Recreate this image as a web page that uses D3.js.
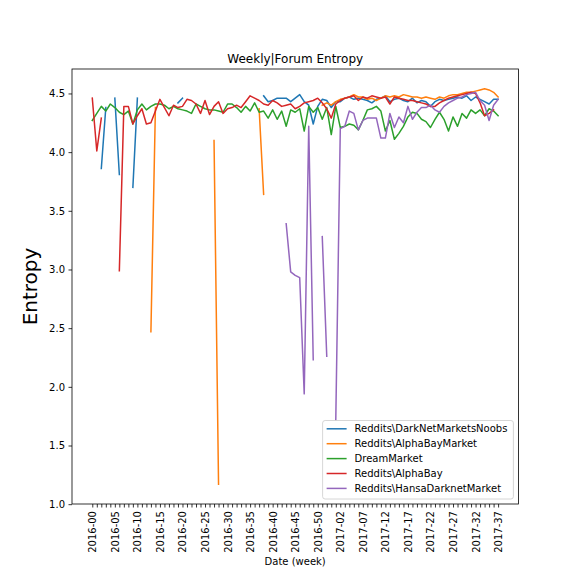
<!DOCTYPE html>
<html>
<head>
<meta charset="utf-8">
<script src="https://cdn.jsdelivr.net/npm/d3@7"></script>
<style>
body { margin: 0; background: #fff; }
svg { display: block; font-family: "DejaVu Sans", sans-serif; }
</style>
</head>
<body>
<svg id="chart"></svg>
<script>
let w = 576;
let h = 576;
let margin = {left: 72, right: 57.6, top: 69, bottom: 72};

// weeks on the x axis (year-week)
let weeks = [
  "2016-00","2016-01","2016-02","2016-03","2016-04","2016-05","2016-06","2016-07","2016-08","2016-09",
  "2016-10","2016-11","2016-12","2016-13","2016-14","2016-15","2016-16","2016-17","2016-18","2016-19",
  "2016-20","2016-21","2016-22","2016-23","2016-24","2016-25","2016-26","2016-27","2016-28","2016-29",
  "2016-30","2016-31","2016-32","2016-33","2016-34","2016-35","2016-36","2016-37","2016-38","2016-39",
  "2016-40","2016-41","2016-42","2016-43","2016-44","2016-45","2016-46","2016-47","2016-48","2016-49",
  "2016-50","2016-51","2016-52","2017-00","2017-01","2017-02","2017-03","2017-04","2017-05","2017-06",
  "2017-07","2017-08","2017-09","2017-10","2017-11","2017-12","2017-13","2017-14","2017-15","2017-16",
  "2017-17","2017-18","2017-19","2017-20","2017-21","2017-22","2017-23","2017-24","2017-25","2017-26",
  "2017-27","2017-28","2017-29","2017-30","2017-31","2017-32","2017-33","2017-34","2017-35","2017-36",
  "2017-37"
];
let tickLabels = ["2016-00","2016-05","2016-10","2016-15","2016-20","2016-25","2016-30","2016-35","2016-40",
  "2016-45","2016-50","2017-02","2017-07","2017-12","2017-17","2017-22","2017-27","2017-32","2017-37"];
let yTicks = [1.0, 1.5, 2.0, 2.5, 3.0, 3.5, 4.0, 4.5];

let seriesNames = ["Reddits\\DarkNetMarketsNoobs", "Reddits\\AlphaBayMarket", "DreamMarket",
  "Reddits\\AlphaBay", "Reddits\\HansaDarknetMarket"];
let colors = ["#1f77b4", "#ff7f0e", "#2ca02c", "#d62728", "#9467bd"];

let dnmNoobs = [
  null,null,3.86,4.38,null,4.46,3.81,null,null,3.70,
  4.46,null,null,null,null,null,null,null,null,4.42,
  4.46,null,null,null,null,null,null,null,null,null,
  null,null,null,null,null,null,null,null,4.48,4.43,
  4.44,4.46,4.46,4.46,4.43,4.46,4.49,4.43,4.40,4.24,
  4.39,4.45,4.44,4.38,4.43,4.43,4.46,4.47,4.45,4.46,
  4.45,4.44,4.42,4.45,4.46,4.48,4.43,4.45,4.46,4.44,
  4.43,4.46,4.42,4.44,4.43,4.39,4.43,4.45,4.44,4.45,
  4.46,4.47,4.46,4.48,4.44,4.47,4.45,4.43,4.41,4.45,
  4.45
];
let alphaBayMarket = [
  null,null,null,null,null,null,null,null,null,null,
  null,null,null,2.47,4.38,null,null,null,null,null,
  null,null,null,null,null,null,null,4.10,1.17,null,
  null,null,null,null,null,null,null,4.37,3.64,null,
  null,null,null,null,null,null,null,null,null,null,
  null,4.40,4.42,4.40,4.43,4.45,4.46,4.47,4.49,4.47,
  4.47,4.45,4.46,4.44,4.46,4.48,4.47,4.48,4.47,4.49,
  4.48,4.47,4.47,4.46,4.47,4.46,4.45,4.47,4.46,4.48,
  4.49,4.49,4.50,4.51,4.51,4.52,4.53,4.54,4.53,4.51,
  4.47
];
let dreamMarket = [
  4.27,4.33,4.39,4.35,4.41,4.38,4.34,4.32,4.35,4.24,
  4.36,4.41,4.36,4.39,4.41,4.41,4.40,4.37,4.39,4.37,
  4.36,4.35,4.33,4.41,4.39,4.37,4.36,4.36,4.35,4.34,
  4.41,4.41,4.38,4.34,4.39,4.35,4.42,4.34,4.35,4.29,
  4.36,4.28,4.35,4.22,4.36,4.34,4.37,4.18,4.39,4.34,
  4.38,4.28,4.38,4.15,4.39,4.21,4.22,4.24,4.23,4.19,
  4.27,4.36,4.37,4.39,4.35,4.18,4.27,4.11,4.16,4.22,
  4.30,4.34,4.33,4.28,4.26,4.21,4.28,4.34,4.28,4.18,
  4.30,4.22,4.33,4.29,4.36,4.33,4.36,4.31,4.37,4.35,
  4.31
];
let alphaBay = [
  4.46,4.01,4.29,null,null,null,2.99,4.39,4.39,4.24,
  4.31,4.37,4.24,4.25,4.35,4.45,4.38,4.31,4.40,4.38,
  4.39,4.45,4.44,4.41,4.33,4.44,4.32,4.39,4.43,4.33,
  4.37,4.38,4.40,4.38,4.43,4.48,4.46,4.44,4.41,4.40,
  4.44,4.42,4.39,4.40,4.41,4.37,4.39,4.42,4.43,4.44,
  4.46,4.42,4.37,4.29,4.41,4.44,4.46,4.47,4.48,4.44,
  4.47,4.46,4.48,4.47,4.46,4.47,4.41,4.47,4.46,4.45,
  4.44,4.44,4.43,4.42,4.41,4.39,4.39,4.42,4.44,4.46,
  4.47,4.48,4.49,4.50,4.51,4.50,4.42,4.31,4.33,4.36,
  null
];
let hansa = [
  null,null,null,null,null,null,null,null,null,null,
  null,null,null,null,null,null,null,null,null,null,
  null,null,null,null,null,null,null,null,null,null,
  null,null,null,null,null,null,null,null,null,null,
  null,null,null,3.39,2.98,2.95,2.93,1.94,4.22,2.23,
  null,3.28,2.26,null,1.72,4.20,4.22,4.35,4.33,4.19,
  4.27,4.29,4.29,4.29,4.12,4.12,4.33,4.21,4.30,4.25,
  4.39,4.28,4.34,4.38,4.38,4.40,4.36,4.34,4.39,4.42,
  4.44,4.46,4.47,4.49,4.50,4.51,4.44,4.40,4.27,4.40,
  4.45
];

let series = [dnmNoobs, alphaBayMarket, dreamMarket, alphaBay, hansa];

function initGraph() {
    let svg = d3.select("#chart")
        .attr("width", w)
        .attr("height", h);

    let innerW = w - margin.left - margin.right;
    let innerH = h - margin.top - margin.bottom;

    //scales, 5% padding like matplotlib
    let xScale = d3.scalePoint()
        .domain(weeks)
        .range([margin.left, margin.left + innerW])
        .padding(4.5);

    let allVals = series.flat().filter(v => v != null);
    let ext = d3.extent(allVals);
    let pad = (ext[1] - ext[0]) * 0.05;
    let yScale = d3.scaleLinear()
        .domain([ext[0] - pad, ext[1] + pad])
        .range([margin.top + innerH, margin.top]);

    //lines
    let line = d3.line()
        .defined(d => d != null)
        .x((d, i) => xScale(weeks[i]))
        .y(d => yScale(d));

    svg.append("g")
        .selectAll("path")
        .data(series)
        .enter()
        .append("path")
            .attr("d", line)
            .attr("fill", "none")
            .attr("stroke", (d, i) => colors[i])
            .attr("stroke-width", 1.5)
            .attr("stroke-linejoin", "round")
            .attr("stroke-linecap", "square");

    //x axis
    let xAxis = d3.axisBottom(xScale)
        .tickValues(weeks)
        .tickSize(3.5)
        .tickSizeOuter(0)
        .tickFormat(d => tickLabels.includes(d) ? d : "");
    let xAxisGroup = svg.append("g")
        .attr("transform", `translate(0, ${margin.top + innerH})`)
        .call(xAxis);
    xAxisGroup.select(".domain").remove();
    xAxisGroup.selectAll("line").attr("stroke", "#000").attr("stroke-width", 0.8);
    xAxisGroup.selectAll("text")
        .attr("transform", "rotate(-90)")
        .attr("x", -7)
        .attr("y", 0)
        .attr("dy", "0.35em")
        .attr("text-anchor", "end")
        .attr("fill", "#000")
        .style("font-family", "DejaVu Sans")
        .style("font-size", "10px");

    //y axis
    let yAxis = d3.axisLeft(yScale)
        .tickValues(yTicks)
        .tickSize(3.5)
        .tickPadding(3.5)
        .tickFormat(d3.format(".1f"));
    let yAxisGroup = svg.append("g")
        .attr("transform", `translate(${margin.left}, 0)`)
        .call(yAxis);
    yAxisGroup.select(".domain").remove();
    yAxisGroup.selectAll("line").attr("stroke", "#000").attr("stroke-width", 0.8);
    yAxisGroup.selectAll("text")
        .attr("fill", "#000")
        .style("font-family", "DejaVu Sans")
        .style("font-size", "10px");

    //frame
    svg.append("rect")
        .attr("x", margin.left)
        .attr("y", margin.top)
        .attr("width", innerW)
        .attr("height", innerH)
        .attr("fill", "none")
        .attr("stroke", "#000")
        .attr("stroke-width", 0.8);

    //titles
    svg.append("text")
        .attr("x", margin.left + innerW / 2)
        .attr("y", margin.top - 6)
        .attr("text-anchor", "middle")
        .style("font-size", "12px")
        .text("Weekly|Forum Entropy");

    svg.append("text")
        .attr("x", margin.left + innerW / 2)
        .attr("y", 565)
        .attr("text-anchor", "middle")
        .style("font-size", "10px")
        .text("Date (week)");

    svg.append("text")
        .attr("transform", `translate(37, ${margin.top + innerH / 2}) rotate(-90)`)
        .attr("text-anchor", "middle")
        .style("font-size", "20px")
        .text("Entropy");

    //legend, lower right
    let legend = svg.append("g");
    let box = legend.append("rect")
        .attr("fill", "#fff")
        .attr("fill-opacity", 0.8)
        .attr("stroke", "#ccc")
        .attr("stroke-width", 0.8)
        .attr("rx", 2.5);
    let rows = legend.selectAll("g")
        .data(seriesNames)
        .enter()
        .append("g");
    let texts = rows.append("text")
        .attr("dy", "0.35em")
        .style("font-size", "10px")
        .text(d => d);
    let maxW = d3.max(texts.nodes(), n => n.getComputedTextLength());
    let right = margin.left + innerW - 5;
    let bottom = margin.top + innerH - 5;
    let left = right - (maxW + 38);
    let rowH = 14.9;
    let top = bottom - (rowH * seriesNames.length + 4);
    box.attr("x", left).attr("y", top).attr("width", right - left).attr("height", bottom - top);
    rows.attr("transform", (d, i) => `translate(${left}, ${top + 8.3 + i * rowH})`);
    rows.append("line")
        .attr("x1", 4).attr("x2", 24)
        .attr("stroke", (d, i) => colors[i])
        .attr("stroke-width", 1.5);
    texts.attr("x", 32);
}

initGraph();
</script>
</body>
</html>
